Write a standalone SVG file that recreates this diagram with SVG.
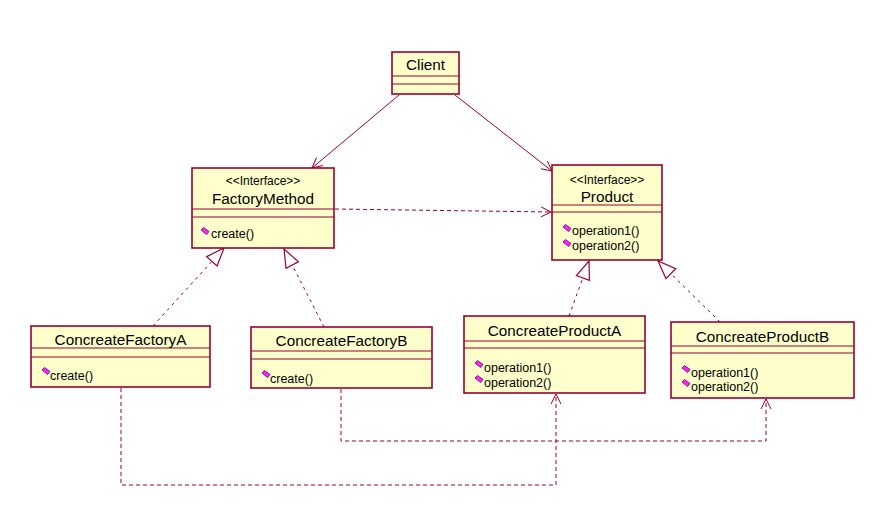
<svg xmlns="http://www.w3.org/2000/svg" width="888" height="522" viewBox="0 0 888 522">
<style>
.box{fill:#FFFFCC;stroke:#990033;stroke-width:1.6}
.sep{stroke:#990033;stroke-width:1.2}
.name{font-family:"Liberation Sans",Arial,sans-serif;font-size:15.3px;fill:#000;text-anchor:middle}
.st{font-family:"Liberation Sans",Arial,sans-serif;font-size:12px;fill:#000;text-anchor:middle}
.op{font-family:"Liberation Sans",Arial,sans-serif;font-size:12.5px;fill:#000}
.ic{fill:#FF22FF;stroke:#660066;stroke-width:0.8}
.assoc{fill:none;stroke:#990033;stroke-width:1}
.dep{fill:none;stroke:#990033;stroke-width:1;stroke-dasharray:4,3}
.gen{fill:none;stroke:#990033;stroke-width:1;stroke-dasharray:3,4}
</style>
<defs>
<path id="icon" class="ic" d="M0,3 L2.5,0.5 L8,4.5 L5.5,7.5 Z"/>
<marker id="open" markerUnits="userSpaceOnUse" markerWidth="16" markerHeight="16" refX="12" refY="6" orient="auto" viewBox="0 0 16 12">
<path d="M2,1 L12,6 L2,11" fill="none" stroke="#990033" stroke-width="1" stroke-dasharray="none"/>
</marker>
<marker id="tri" markerUnits="userSpaceOnUse" markerWidth="22" markerHeight="18" refX="19" refY="8" orient="auto" viewBox="0 0 22 16">
<path d="M1,1 L19,8 L1,15 Z" fill="#FFFFFF" stroke="#990033" stroke-width="1.2" stroke-dasharray="none"/>
</marker>
</defs>

<g id="connectors">
<line class="assoc" x1="399" y1="95" x2="312" y2="168" marker-end="url(#open)"/>
<line class="assoc" x1="455" y1="95" x2="552" y2="171" marker-end="url(#open)"/>
<line class="dep" x1="335" y1="209" x2="551" y2="212" marker-end="url(#open)"/>
<line class="gen" x1="153" y1="326" x2="224" y2="248" marker-end="url(#tri)"/>
<line class="gen" x1="324" y1="327" x2="284" y2="249" marker-end="url(#tri)"/>
<line class="gen" x1="569" y1="316" x2="589" y2="261" marker-end="url(#tri)"/>
<line class="gen" x1="720" y1="322" x2="658" y2="261" marker-end="url(#tri)"/>
<polyline class="dep" points="121,388 121,485 556,485 556,394" marker-end="url(#open)"/>
<polyline class="dep" points="341,389 341,441 766,441 766,399" marker-end="url(#open)"/>
</g>

<g id="Client">
<rect class="box" x="392" y="52" width="67" height="42"/>
<line class="sep" x1="392" y1="76" x2="459" y2="76"/>
<line class="sep" x1="392" y1="84" x2="459" y2="84"/>
<text class="name" x="425.5" y="70">Client</text>
</g>

<g id="FactoryMethod">
<rect class="box" x="192" y="168" width="142" height="80"/>
<line class="sep" x1="192" y1="209" x2="334" y2="209"/>
<line class="sep" x1="192" y1="217" x2="334" y2="217"/>
<text class="st" x="263" y="185">&lt;&lt;Interface&gt;&gt;</text>
<text class="name" x="263" y="204">FactoryMethod</text>
<use href="#icon" x="201" y="227"/>
<text class="op" x="211" y="238">create()</text>
</g>

<g id="Product">
<rect class="box" x="552" y="165" width="110" height="95"/>
<line class="sep" x1="552" y1="205" x2="662" y2="205"/>
<line class="sep" x1="552" y1="212" x2="662" y2="212"/>
<text class="st" x="607" y="184">&lt;&lt;Interface&gt;&gt;</text>
<text class="name" x="607" y="202">Product</text>
<use href="#icon" x="563" y="224"/>
<text class="op" x="572" y="235">operation1()</text>
<use href="#icon" x="563" y="239"/>
<text class="op" x="572" y="250">operation2()</text>
</g>

<g id="ConcreateFactoryA">
<rect class="box" x="31" y="326" width="179" height="61"/>
<line class="sep" x1="31" y1="348" x2="210" y2="348"/>
<line class="sep" x1="31" y1="357" x2="210" y2="357"/>
<text class="name" x="120.5" y="345">ConcreateFactoryA</text>
<use href="#icon" x="42" y="367"/>
<text class="op" x="50" y="380">create()</text>
</g>

<g id="ConcreateFactoryB">
<rect class="box" x="251" y="327" width="181" height="61"/>
<line class="sep" x1="251" y1="351" x2="432" y2="351"/>
<line class="sep" x1="251" y1="359" x2="432" y2="359"/>
<text class="name" x="341.5" y="346">ConcreateFactoryB</text>
<use href="#icon" x="262" y="370"/>
<text class="op" x="270" y="383">create()</text>
</g>

<g id="ConcreateProductA">
<rect class="box" x="464" y="316" width="181" height="77"/>
<line class="sep" x1="464" y1="341" x2="645" y2="341"/>
<line class="sep" x1="464" y1="348" x2="645" y2="348"/>
<text class="name" x="554.5" y="336">ConcreateProductA</text>
<use href="#icon" x="475" y="360"/>
<text class="op" x="484" y="372">operation1()</text>
<use href="#icon" x="475" y="375"/>
<text class="op" x="484" y="387">operation2()</text>
</g>

<g id="ConcreateProductB">
<rect class="box" x="671" y="322" width="183" height="76"/>
<line class="sep" x1="671" y1="346" x2="854" y2="346"/>
<line class="sep" x1="671" y1="353" x2="854" y2="353"/>
<text class="name" x="762.5" y="342">ConcreateProductB</text>
<use href="#icon" x="682" y="365"/>
<text class="op" x="691" y="377">operation1()</text>
<use href="#icon" x="682" y="379"/>
<text class="op" x="691" y="391">operation2()</text>
</g>
</svg>
